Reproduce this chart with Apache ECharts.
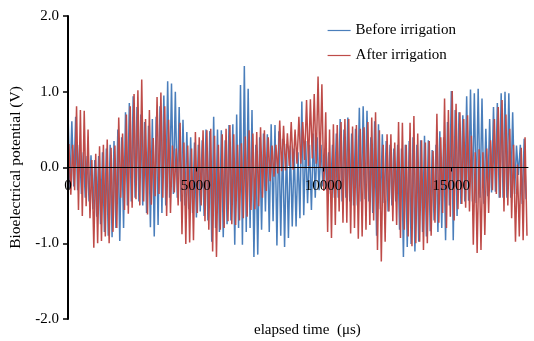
<!DOCTYPE html>
<html>
<head>
<meta charset="utf-8" />
<title>Bioelectrical potential</title>
<script src="https://cdn.jsdelivr.net/npm/echarts@6/dist/echarts.min.js"></script>
<style>
  html, body { margin: 0; padding: 0; background: #fff; }
  #chart { width: 534px; height: 341px; }
</style>
</head>
<body>
<div id="chart"></div>
<script>
// time between a peak and the following trough (us)
var halfPeriod = 75;
var redShift = 35;

// before irrigation: peaks / troughs, one pair per cycle
var beforePeaks = [
  0.73, 0.61, 0.67, 0.30, 0.20, 0.15, 0.16, 0.10, 0.15, 0.20, 0.25, 0.30, 0.35, 0.50, 0.40, 0.73, 0.85, 0.94, 0.80, 0.70,
  0.60, 0.55, 0.64, 0.67, 0.81, 0.95, 1.14, 1.11, 1.00, 0.80, 0.63, 0.47, 0.40, 0.33, 0.30, 0.36, 0.50, 0.48, 0.67, 0.50,
  0.49, 0.36, 0.56, 0.57, 0.70, 1.09, 1.34, 1.04, 0.76, 0.30, 0.40, 0.45, 0.44, 0.57, 0.56, 0.48, 0.38, 0.31, 0.29, 0.25,
  0.20, 0.87, 0.35, 0.30, 0.45, 0.40, 0.30, 0.25, 0.20, 0.30, 0.45, 0.64, 0.50, 0.66, 0.45, 0.51, 0.79, 0.81, 0.75, 0.40,
  0.61, 0.57, 0.44, 0.35, 0.30, 0.25, 0.30, 0.25, 0.30, 0.35, 0.40, 0.30, 0.36, 0.42, 0.36, 0.23, 0.30, 0.48, 0.40, 0.60,
  1.01, 0.76, 0.73, 0.69, 0.94, 1.03, 0.98, 1.04, 0.91, 0.51, 0.64, 0.80, 0.85, 0.98, 1.00, 0.98, 0.73, 0.29, 0.30, 0.38
];
var beforeTroughs = [
  -0.27, -0.25, -0.30, -0.35, -0.40, -0.45, -0.55, -0.65, -0.75, -0.85, -0.90, -0.92, -0.80, -0.97, -0.80, -0.50, -0.45, -0.40, -0.45, -0.50,
  -0.60, -0.79, -0.91, -0.76, -0.60, -0.50, -0.40, -0.35, -0.40, -0.45, -0.50, -0.55, -0.60, -0.66, -0.58, -0.64, -0.70, -0.98, -0.80, -0.85,
  -0.92, -0.75, -0.70, -1.02, -0.80, -1.02, -0.85, -0.80, -1.18, -1.15, -0.82, -0.58, -0.85, -0.71, -1.03, -0.90, -1.05, -0.93, -0.78, -0.78,
  -0.67, -0.63, -0.47, -0.56, -0.40, -0.30, -0.25, -0.30, -0.35, -0.40, -0.40, -0.45, -0.40, -0.45, -0.50, -0.50, -0.45, -0.42, -0.45, -0.60,
  -0.90, -0.55, -0.47, -0.58, -0.50, -0.45, -0.82, -1.18, -1.05, -1.01, -1.11, -0.98, -0.85, -0.91, -0.84, -0.70, -0.85, -0.80, -0.96, -0.50,
  -0.96, -0.64, -0.48, -0.45, -0.44, -0.45, -0.47, -0.40, -0.48, -0.38, -0.33, -0.32, -0.40, -0.40, -0.40, -0.40, -0.35, -0.10, -0.48, -0.42
];

// after irrigation
var afterPeaks = [
  0.31, 0.30, 0.81, 0.76, 0.75, 0.50, 0.10, 0.18, 0.28, 0.30, 0.37, 0.26, 0.29, 0.66, 0.45, 0.70, 0.81, 0.97, 1.02, 1.16,
  0.64, 0.76, 0.39, 0.93, 0.99, 0.81, 0.63, 0.29, 0.25, 0.59, 0.33, 0.29, 0.25, 0.47, 0.40, 0.49, 0.49, 0.51, 0.42, 0.30,
  0.44, 0.51, 0.56, 0.44, 0.30, 0.32, 0.41, 0.49, 0.45, 0.47, 0.53, 0.49, 0.40, 0.29, 0.30, 0.62, 0.55, 0.45, 0.60, 0.50,
  0.67, 0.60, 0.89, 0.90, 0.97, 1.20, 1.10, 0.73, 0.50, 0.57, 0.56, 0.60, 0.64, 0.64, 0.54, 0.56, 0.51, 0.53, 0.60, 0.66,
  0.73, 0.49, 0.30, 0.44, 0.44, 0.33, 0.60, 0.59, 0.30, 0.59, 0.68, 0.45, 0.36, 0.33, 0.35, 0.22, 0.71, 0.40, 0.91, 0.76,
  1.01, 0.84, 0.73, 0.64, 0.69, 0.42, 0.20, 0.24, 0.20, 0.25, 0.36, 0.64, 0.80, 0.89, 0.70, 0.51, 0.30, 0.04, 0.26, 0.40
];
var afterTroughs = [
  -0.36, -0.30, -0.56, -0.64, -0.51, -0.67, -1.06, -1.00, -0.97, -0.91, -1.00, -0.85, -0.80, -0.40, -0.56, -0.61, -0.53, -0.42, -0.50, -0.45,
  -0.62, -0.49, -0.38, -0.35, -0.40, -0.64, -0.60, -0.33, -0.50, -0.88, -1.01, -0.99, -0.96, -0.60, -0.50, -0.71, -0.82, -1.11, -1.18, -0.82,
  -0.80, -0.71, -0.75, -0.76, -0.70, -0.67, -0.65, -0.56, -0.55, -0.51, -0.40, -0.31, -0.18, -0.12, -0.08, -0.05, -0.04, 0.02, -0.03, 0.05,
  0.05, 0.10, 0.02, 0.12, 0.05, 0.00, -0.31, -0.85, -0.93, -0.76, -0.58, -0.73, -0.73, -0.87, -0.80, -0.94, -0.91, -0.82, -0.76, -0.70,
  -1.09, -1.24, -0.98, -0.58, -0.71, -0.76, -0.93, -0.82, -0.91, -1.04, -1.00, -0.98, -1.09, -1.00, -0.90, -0.73, -0.73, -0.60, -0.80, -0.65,
  -0.70, -0.55, -0.48, -0.53, -0.58, -1.02, -1.13, -1.09, -0.89, -0.60, -0.30, -0.35, -0.40, -0.58, -0.50, -0.67, -0.98, -0.91, -0.96, -0.90
];

var xTicks = [0, 5000, 10000, 15000];
var yTicks = [-2, -1, 0, 1, 2];

function zigzag(peaks, troughs, shift) {
  var pts = [];
  for (var i = 0; i < peaks.length; i++) {
    pts.push([2 * i * halfPeriod + shift, peaks[i]]);
    pts.push([(2 * i + 1) * halfPeriod + shift, troughs[i]]);
  }
  return pts;
}

var font = "'Liberation Serif', 'Times New Roman', serif";
var gridTop = 16, gridBottom = 22;
var plotH = 341 - gridTop - gridBottom;
var chart = echarts.init(document.getElementById('chart'), null, { renderer: 'canvas' });

chart.setOption({
  animation: false,
  backgroundColor: '#fff',
  textStyle: { fontFamily: font, color: '#000' },
  title: {
    text: 'elapsed time  (\u03bcs)',
    left: 249, top: 318,
    textStyle: { fontFamily: font, fontSize: 15, fontWeight: 'normal', color: '#000' }
  },
  legend: {
    orient: 'vertical',
    left: 322, top: 18,
    itemWidth: 23, itemHeight: 14, itemGap: 10,
    itemStyle: { opacity: 0 },
    lineStyle: { width: 1.2 },
    textStyle: { fontFamily: font, fontSize: 15, color: '#000' },
    data: ['Before irrigation', 'After irrigation']
  },
  grid: { left: 68, right: 6, top: gridTop, bottom: gridBottom },
  xAxis: {
    type: 'value',
    min: 0, max: 18000, interval: 5000,
    z: 5,
    // x axis crosses the y axis at 0 (middle of the plot)
    offset: -plotH / 2,
    axisLine: { onZero: false, lineStyle: { color: '#000', width: 1 } },
    axisTick: { show: true, length: 4, lineStyle: { color: '#000' } },
    axisLabel: {
      fontFamily: font, fontSize: 15, color: '#000', margin: 11,
      showMaxLabel: false,
      formatter: function (v) { return xTicks.indexOf(v) >= 0 ? String(v) : ''; }
    },
    splitLine: { show: false }
  },
  yAxis: {
    type: 'value',
    min: yTicks[0], max: yTicks[yTicks.length - 1], interval: 1,
    z: 5,
    name: 'Bioelectrical potential (V)',
    nameLocation: 'middle', nameGap: 44,
    nameTextStyle: { fontFamily: font, fontSize: 15.5, color: '#000' },
    axisLine: { show: true, lineStyle: { color: '#000', width: 2 } },
    axisTick: { show: true, length: 5, lineStyle: { color: '#000', width: 1.5 } },
    axisLabel: {
      fontFamily: font, fontSize: 15, color: '#000', margin: 9,
      formatter: function (v) { return v.toFixed(1); }
    },
    splitLine: { show: false }
  },
  series: [
    {
      name: 'Before irrigation',
      type: 'line',
      symbol: 'none',
      color: '#4a7ebb',
      lineStyle: { width: 1.5, color: '#4a7ebb' },
      data: zigzag(beforePeaks, beforeTroughs, 0)
    },
    {
      name: 'After irrigation',
      type: 'line',
      symbol: 'none',
      color: '#be4b48',
      lineStyle: { width: 1.5, color: '#be4b48' },
      data: zigzag(afterPeaks, afterTroughs, redShift)
    }
  ]
});
</script>
</body>
</html>
